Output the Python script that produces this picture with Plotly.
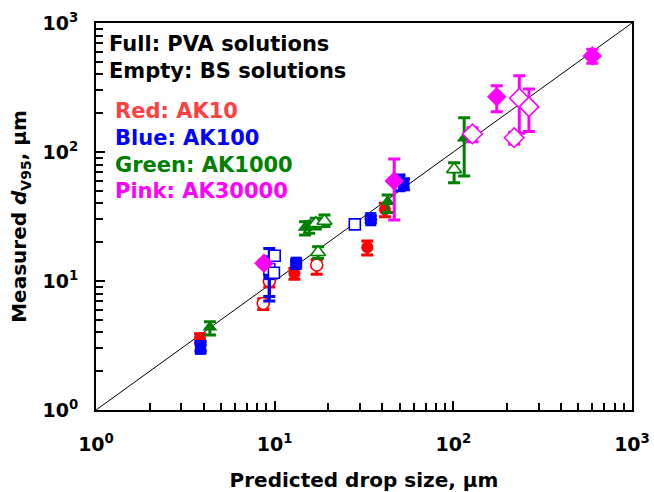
import plotly.graph_objects as go

# ---------------- data ----------------
red_full_x = [3.82, 12.9, 33.0, 41.4]
red_full_y = [3.6, 11.5, 18.3, 35.9]
red_full_hi = [3.9, 12.5, 20.4, 40.0]
red_full_lo = [3.3, 10.3, 15.9, 31.5]

red_empty_x = [8.63, 9.33, 17.2]
red_empty_y = [6.7, 10.0, 13.3]
red_empty_hi = [7.3, 11.0, 14.7]
red_empty_lo = [6.0, 9.0, 11.3]

blue_full_x = [3.85, 3.85, 9.33, 13.2, 13.2, 34.5, 34.5, 50.0, 53.0]
blue_full_y = [3.15, 2.95, 11.2, 14.0, 13.4, 31.0, 29.3, 59.3, 56.0]
blue_full_hi = [3.4, 3.2, 17.9, 14.6, 14.0, 32.0, 30.3, 66.3, 62.0]
blue_full_lo = [2.9, 2.8, 7.0, 13.4, 12.8, 30.0, 28.3, 50.1, 51.0]

blue_empty_x = [9.33, 10.0, 9.9, 28.1]
blue_empty_y = [12.4, 15.7, 11.6, 27.5]
blue_empty_hi = [15.4, 16.5, 12.2, 28.0]
blue_empty_lo = [7.6, 15.0, 11.0, 27.0]

green_full_x = [4.34, 14.8, 15.6, 42.9, 115.0]
green_full_y = [4.38, 26.0, 27.0, 41.2, 128.0]
green_full_hi = [4.83, 28.8, 28.8, 46.4, 184.5]
green_full_lo = [3.81, 22.7, 23.5, 33.9, 65.2]

green_empty_x = [17.0, 19.0, 17.5, 101.0]
green_empty_y = [28.0, 29.2, 16.7, 73.4]
green_empty_hi = [30.6, 32.5, 18.4, 82.6]
green_empty_lo = [25.3, 26.4, 15.0, 57.8]

pink_full_x = [8.7, 46.7, 175.0, 599.0]
pink_full_y = [13.7, 59.6, 268.0, 555.0]
pink_full_hi = [14.5, 88.3, 326.0, 625.0]
pink_full_lo = [13.0, 29.7, 205.0, 487.0]

pink_empty_x = [128.0, 234.0, 265.0, 219.0]
pink_empty_y = [138.0, 261.0, 224.0, 129.0]
pink_empty_hi = [154.0, 390.0, 308.0, 142.0]
pink_empty_lo = [120.0, 140.0, 144.0, 115.0]

parity_x = [1, 1000]
parity_y = [1, 1000]

major_ticks = [1, 10, 100, 1000]
major_text = ["10<sup>0</sup>", "10<sup>1</sup>", "10<sup>2</sup>", "10<sup>3</sup>"]
minor_ticks = [m * d for d in [1, 10, 100] for m in range(2, 10)]

RED = "#ff0000"
BLUE = "#0000ff"
GREEN = "#008000"
PINK = "#ff00ff"

FONT = "DejaVu Sans, sans-serif"

fig = go.Figure()
fig.add_trace(go.Scatter(x=parity_x, y=parity_y, mode="lines",
                         line=dict(color="black", width=1), showlegend=False))


def add(xs, ys, hi, lo, color, symbol, size, filled):
    err = dict(type="data", symmetric=False,
               array=[h - v for h, v in zip(hi, ys)],
               arrayminus=[v - l for v, l in zip(ys, lo)],
               color=color, thickness=3, width=6)
    if filled:
        marker = dict(symbol=symbol, size=size, color=color, line=dict(width=0))
    else:
        marker = dict(symbol=symbol, size=size, color="white",
                      line=dict(color=color, width=1.6))
    fig.add_trace(go.Scatter(x=xs, y=ys, mode="markers", marker=marker,
                             error_y=err, showlegend=False))


add(red_full_x, red_full_y, red_full_hi, red_full_lo, RED, "circle", 12, True)
add(red_empty_x, red_empty_y, red_empty_hi, red_empty_lo, RED, "circle", 12, False)
add(blue_full_x, blue_full_y, blue_full_hi, blue_full_lo, BLUE, "square", 11, True)
add(blue_empty_x, blue_empty_y, blue_empty_hi, blue_empty_lo, BLUE, "square", 11, False)
add(green_full_x, green_full_y, green_full_hi, green_full_lo, GREEN, "triangle-up", 13, True)
add(green_empty_x, green_empty_y, green_empty_hi, green_empty_lo, GREEN, "triangle-up", 13, False)
add(pink_full_x, pink_full_y, pink_full_hi, pink_full_lo, PINK, "diamond", 15, True)
add(pink_empty_x, pink_empty_y, pink_empty_hi, pink_empty_lo, PINK, "diamond", 15, False)

L, R, T, B = 96, 22, 23, 82
W, H = 654, 492
pw, ph = W - L - R, H - T - B


def px(x):
    return (x - L) / pw


def py(y):
    return 1 - (y - T) / ph


notes = [
    ("Full: PVA solutions", 107, 44, "black"),
    ("Empty: BS solutions", 107, 71, "black"),
    ("Red: AK10", 113, 111, "#ff4040"),
    ("Blue: AK100", 113, 138, BLUE),
    ("Green: AK1000", 113, 165, GREEN),
    ("Pink: AK30000", 113, 191, PINK),
]
for txt, x, y, c in notes:
    fig.add_annotation(text="<b>" + txt + "</b>", x=px(x), y=py(y), xref="paper", yref="paper",
                       xanchor="left", yanchor="middle", showarrow=False,
                       font=dict(family=FONT, size=21, color=c))

axis_common = dict(type="log", range=[0, 3], showgrid=False, zeroline=False,
                   showline=True, linecolor="black", linewidth=2, mirror=True,
                   automargin=False,
                   ticks="inside", ticklen=9, tickwidth=1.5, tickcolor="black",
                   tickvals=major_ticks, ticktext=major_text,
                   tickfont=dict(family=FONT, size=19, color="black", weight="bold"),
                   minor=dict(tickvals=minor_ticks, ticks="inside", ticklen=7,
                              tickwidth=1.5, tickcolor="black", showgrid=False))

fig.update_layout(
    width=W, height=H, margin=dict(l=L, r=R, t=T, b=B),
    plot_bgcolor="white", paper_bgcolor="white",
    xaxis=dict(axis_common,
               ticklabelstandoff=16,
               title=dict(text="<b>Predicted drop size, μm</b>", standoff=24,
                          font=dict(family=FONT, size=20, color="black"))),
    yaxis=dict(axis_common,
               ticklabelstandoff=12,
               title=dict(text="<b>Measured <i>d</i><sub>V95</sub>, μm</b>", standoff=10,
                          font=dict(family=FONT, size=20, color="black"))),
)

fig.write_html("out.html")
